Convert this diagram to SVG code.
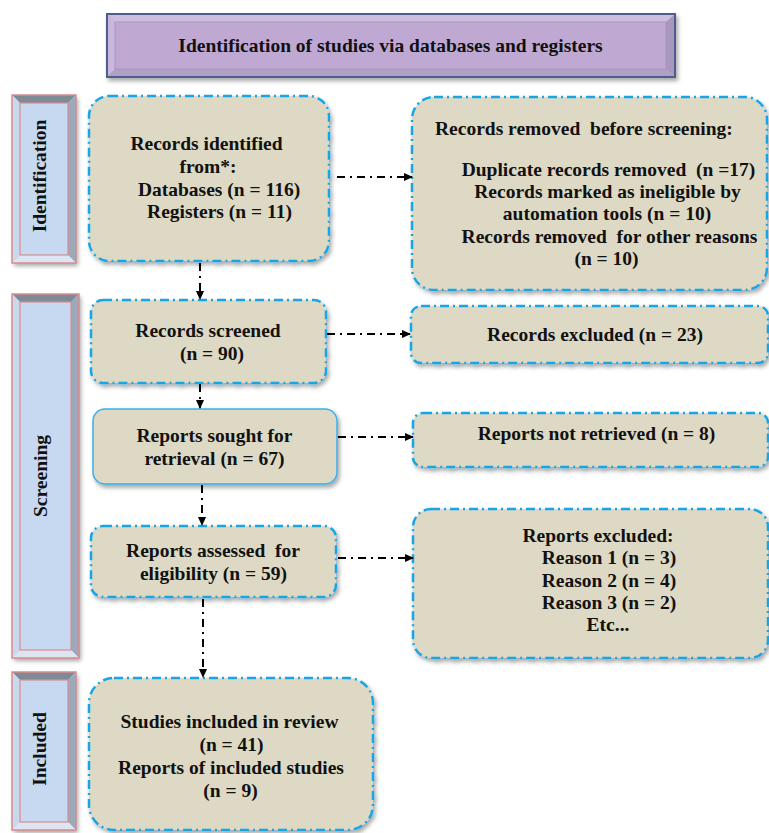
<svg xmlns="http://www.w3.org/2000/svg" width="769" height="833" viewBox="0 0 769 833">
<defs>
<filter id="sh" x="-10%" y="-10%" width="130%" height="130%">
<feDropShadow dx="2" dy="3" stdDeviation="2" flood-color="#000" flood-opacity="0.35"/>
</filter>
<marker id="ah" markerWidth="9" markerHeight="8" refX="8" refY="4" orient="auto" markerUnits="userSpaceOnUse">
<path d="M0,0 L9,4 L0,8 z" fill="#000"/>
</marker>
<style>
text{font-family:"Liberation Serif","Times New Roman",serif;font-weight:bold;font-size:19.5px;fill:#111;white-space:pre;}
.c{text-anchor:middle;}
.box{fill:#DDD9C4;stroke:#18A6E6;stroke-width:2.5;stroke-dasharray:9 4 2 4;filter:url(#sh);}
.solid{fill:#DDD9C4;stroke:#3BB0E8;stroke-width:1.5;filter:url(#sh);}
.con{fill:none;stroke:#000;stroke-width:2;stroke-dasharray:8 5 2 5;marker-end:url(#ah);}
.bo{fill:none;stroke:#D98C8E;stroke-width:1.5;}
.bi{fill:#C6D9F1;stroke:#D98C8E;stroke-width:1.2;}
.bt{fill:#7F8A97;}
.br{fill:#9CA9BB;}
.bb{fill:#DCE5F1;}
.bl{fill:#C9D8EC;}
</style>
</defs>
<rect width="769" height="833" fill="#fff"/>

<g id="title">
<rect x="107" y="14" width="568" height="63" fill="#BFA9D3" stroke="#4E5D8E" stroke-width="2" filter="url(#sh)"/>
<path d="M108,15 L674,15 L666,22 L115,22 z" fill="#CDBDE0"/>
<path d="M108,15 L115,22 L115,69 L108,76 z" fill="#C9B8DC"/>
<path d="M674,15 L674,76 L666,69 L666,22 z" fill="#A997BE"/>
<path d="M108,76 L674,76 L666,69 L115,69 z" fill="#B19FC6"/>
<rect x="115" y="22" width="551" height="47" fill="#BFA9D3" stroke="#A894BE" stroke-width="1"/>
<text x="390.5" y="52" class="c">Identification of studies via databases and registers</text>
</g>

<g id="phase-identification">
<g filter="url(#sh)">
<path class="bt" d="M12,95 L76,95 L68,103 L20,103 z"/>
<path class="br" d="M76,95 L76,263 L68,255 L68,103 z"/>
<path class="bb" d="M12,263 L76,263 L68,255 L20,255 z"/>
<path class="bl" d="M12,95 L20,103 L20,255 L12,263 z"/>
</g>
<rect class="bi" x="20" y="103" width="48" height="152"/>
<rect class="bo" x="12" y="95" width="64" height="168"/>
<text class="c" transform="translate(46,176) rotate(-90)">Identification</text>
</g>

<g id="phase-screening">
<g filter="url(#sh)">
<path class="bt" d="M12,294 L79,294 L71,302 L20,302 z"/>
<path class="br" d="M79,294 L79,658 L71,650 L71,302 z"/>
<path class="bb" d="M12,658 L79,658 L71,650 L20,650 z"/>
<path class="bl" d="M12,294 L20,302 L20,650 L12,658 z"/>
</g>
<rect class="bi" x="20" y="302" width="51" height="348"/>
<rect class="bo" x="12" y="294" width="67" height="364"/>
<text class="c" transform="translate(47,476) rotate(-90)">Screening</text>
</g>

<g id="phase-included">
<g filter="url(#sh)">
<path class="bt" d="M12,672 L76,672 L68,680 L20,680 z"/>
<path class="br" d="M76,672 L76,830 L68,822 L68,680 z"/>
<path class="bb" d="M12,830 L76,830 L68,822 L20,822 z"/>
<path class="bl" d="M12,672 L20,680 L20,822 L12,830 z"/>
</g>
<rect class="bi" x="20" y="680" width="48" height="142"/>
<rect class="bo" x="12" y="672" width="64" height="158"/>
<text class="c" transform="translate(46,749) rotate(-90)">Included</text>
</g>

<g id="records-identified">
<rect class="box" x="89" y="96" width="240" height="165" rx="20"/>
<text x="206.5" y="150" class="c">Records identified</text>
<text x="208" y="173" class="c">from*:</text>
<text x="219" y="196" class="c">Databases (n = 116)</text>
<text x="219.5" y="218" class="c">Registers (n = 11)</text>
</g>

<g id="records-removed">
<rect class="box" x="412" y="97" width="355" height="193" rx="22"/>
<text x="435" y="135">Records removed  before screening:</text>
<text x="608.5" y="176" class="c">Duplicate records removed  (n =17)</text>
<text x="607.5" y="198" class="c">Records marked as ineligible by</text>
<text x="607" y="220" class="c">automation tools (n = 10)</text>
<text x="609.5" y="243" class="c">Records removed  for other reasons</text>
<text x="606.5" y="265" class="c">(n = 10)</text>
</g>

<g id="records-screened">
<rect class="box" x="91" y="300" width="235" height="83" rx="12"/>
<text x="208" y="337" class="c">Records screened</text>
<text x="212" y="360" class="c">(n = 90)</text>
</g>

<g id="records-excluded">
<rect class="box" x="411" y="306" width="357" height="57" rx="10"/>
<text x="595" y="341" class="c">Records excluded (n = 23)</text>
</g>

<g id="reports-sought">
<rect class="solid" x="93" y="409" width="244" height="75" rx="12"/>
<text x="214.5" y="442" class="c">Reports sought for</text>
<text x="214.5" y="465" class="c">retrieval (n = 67)</text>
</g>

<g id="reports-not-retrieved">
<rect class="box" x="413" y="413" width="355" height="54" rx="10"/>
<text x="596.5" y="440" class="c">Reports not retrieved (n = 8)</text>
</g>

<g id="reports-assessed">
<rect class="box" x="91" y="526" width="245" height="71" rx="12"/>
<text x="213" y="557" class="c">Reports assessed  for</text>
<text x="213.5" y="580" class="c">eligibility (n = 59)</text>
</g>

<g id="reports-excluded">
<rect class="box" x="413" y="509" width="355" height="149" rx="18"/>
<text x="598" y="542" class="c">Reports excluded:</text>
<text x="609" y="564" class="c">Reason 1 (n = 3)</text>
<text x="609" y="587" class="c">Reason 2 (n = 4)</text>
<text x="609" y="609" class="c">Reason 3 (n = 2)</text>
<text x="608" y="631" class="c">Etc...</text>
</g>

<g id="studies-included">
<rect class="box" x="89" y="678" width="284" height="152" rx="25"/>
<text x="229.5" y="728" class="c">Studies included in review</text>
<text x="231.5" y="751" class="c">(n = 41)</text>
<text x="231" y="774" class="c">Reports of included studies</text>
<text x="230.5" y="797" class="c">(n = 9)</text>
</g>

<g id="connectors">
<path class="con" d="M200,263 L200,299"/>
<path class="con" d="M337,177 L412,177"/>
<path class="con" d="M327,334 L410,334"/>
<path class="con" d="M200,384 L200,408"/>
<path class="con" d="M338,437 L413,437"/>
<path class="con" d="M202,485 L202,525"/>
<path class="con" d="M338,558 L413,558"/>
<path class="con" d="M203,599 L203,677"/>
</g>
</svg>
